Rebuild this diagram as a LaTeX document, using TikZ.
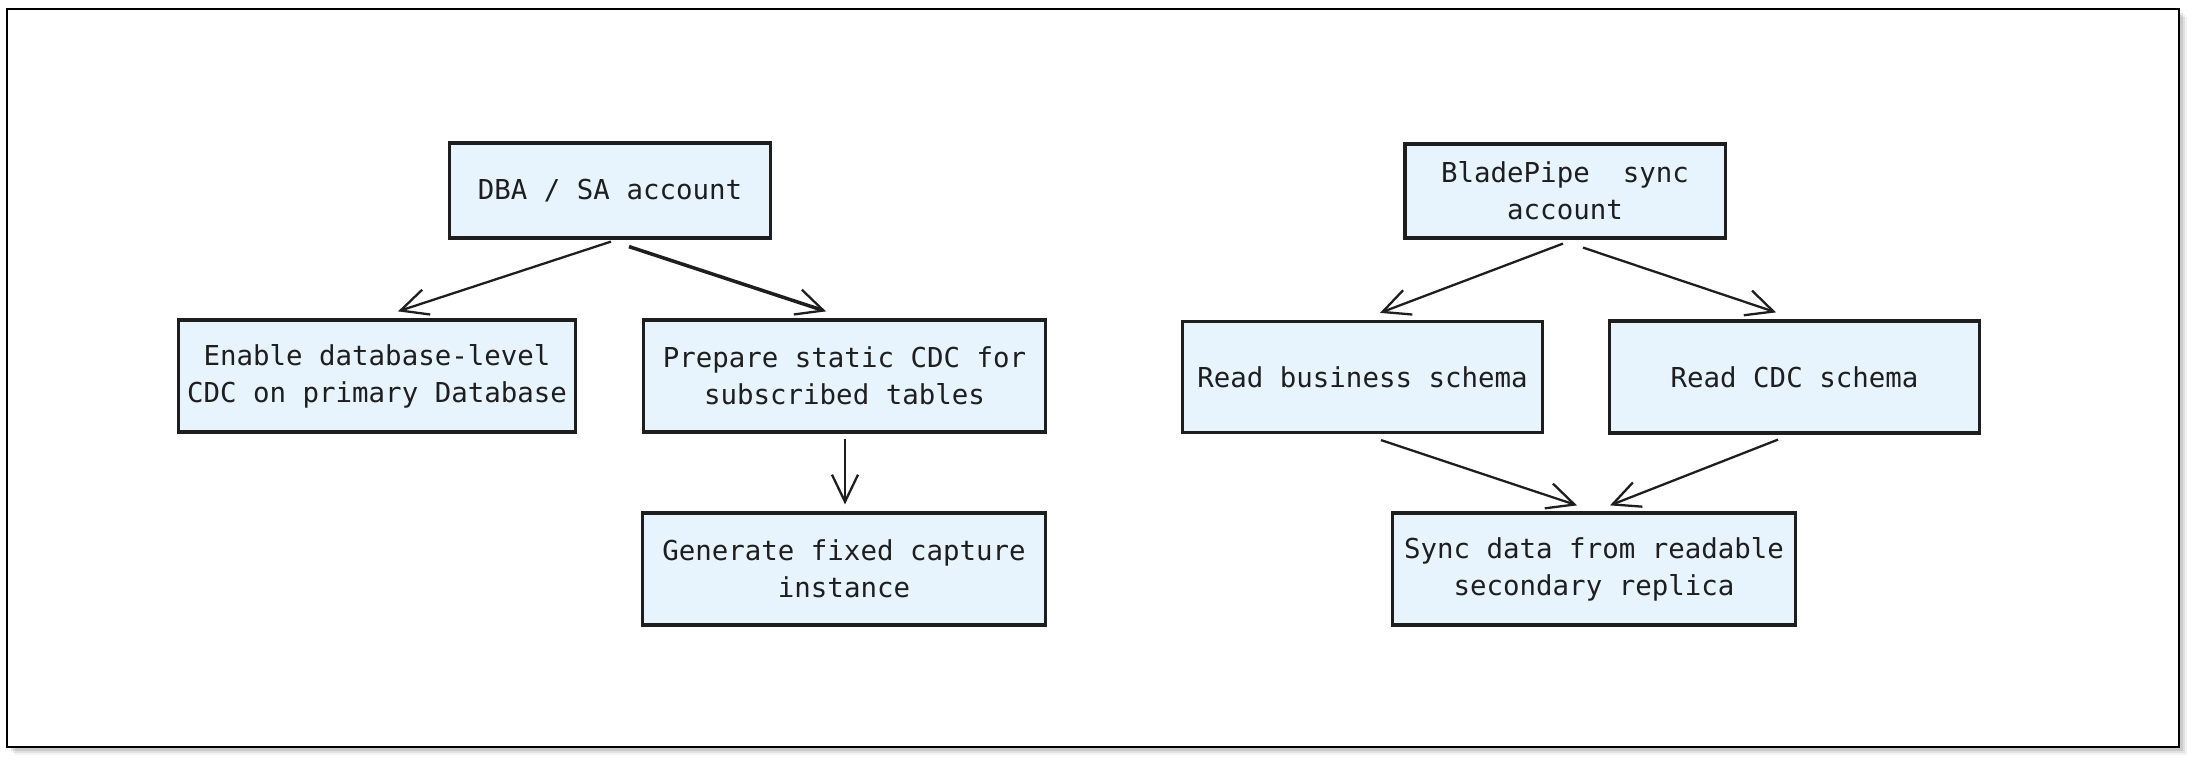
\documentclass[tikz,border=0pt]{standalone}
\usepackage{fontspec}
\setmonofont{DejaVu Sans Mono}
\usetikzlibrary{arrows.meta,calc}
\definecolor{boxfill}{HTML}{E7F4FD}
\definecolor{ink}{HTML}{1E1E1E}
\tikzset{
  stepbox/.style={draw=ink, fill=boxfill, line width=0.9pt, inner sep=0pt,
    align=center, text=ink, font=\ttfamily\fontsize{7.8}{10.5}\selectfont},
  conn/.style={draw=ink, line width=0.65pt, -{Straight Barb[length=2.7mm,width=2.6mm,line width=0.65pt]}},
}
\begin{document}
\begin{tikzpicture}[x=0.01cm,y=-0.01cm]
\useasboundingbox (0,0) rectangle (2194,762);
% frame shadow
\foreach \o/\op in {8/0.05,6/0.07,4/0.1}{
  \fill[black,opacity=\op] (7+\o,9+\o) rectangle (2179+\o,747+\o);
}
\draw[fill=white,line width=0.8pt] (7,9) rectangle (2179,747);

\node[stepbox, minimum width=3.2cm, minimum height=0.95cm] (dba) at (610,190.5) {DBA / SA account};
\node[stepbox, minimum width=3.96cm, minimum height=1.12cm] (enable) at (377,376) {Enable database-level\\CDC on primary Database};
\node[stepbox, minimum width=4.01cm, minimum height=1.12cm] (prepare) at (844.5,376) {Prepare static CDC for\\subscribed tables};
\node[stepbox, minimum width=4.02cm, minimum height=1.12cm] (generate) at (844,569) {Generate fixed capture\\instance};

\node[stepbox, minimum width=3.2cm, minimum height=0.94cm] (blade) at (1565,191) {BladePipe\ \ sync\\account};
\node[stepbox, minimum width=3.59cm, minimum height=1.11cm] (business) at (1362.5,377) {Read business schema};
\node[stepbox, minimum width=3.69cm, minimum height=1.12cm] (cdcs) at (1794.5,377) {Read CDC schema};
\node[stepbox, minimum width=4.02cm, minimum height=1.12cm] (sync) at (1594,569) {Sync data from readable\\secondary replica};

\draw[conn] ($(dba.south)+(1,2)$) -- ($(enable.north)+(21,-7)$);
\draw[conn, line width=1pt] ($(dba.south)+(19,7)$) -- ($(prepare.north)+(-18.5,-7)$);
\draw[conn] ($(prepare.south)+(0.5,5)$) -- ($(generate.north)+(1,-7)$);
\draw[conn] ($(blade.south)+(-2,4)$) -- ($(business.north)+(17.5,-7)$);
\draw[conn] ($(blade.south)+(18,8)$) -- ($(cdcs.north)+(-18.5,-7)$);
\draw[conn] ($(business.south)+(18.5,6)$) -- ($(sync.north)+(-17,-6)$);
\draw[conn] ($(cdcs.south)+(-16.5,5)$) -- ($(sync.north)+(16,-6)$);
\end{tikzpicture}
\end{document}
